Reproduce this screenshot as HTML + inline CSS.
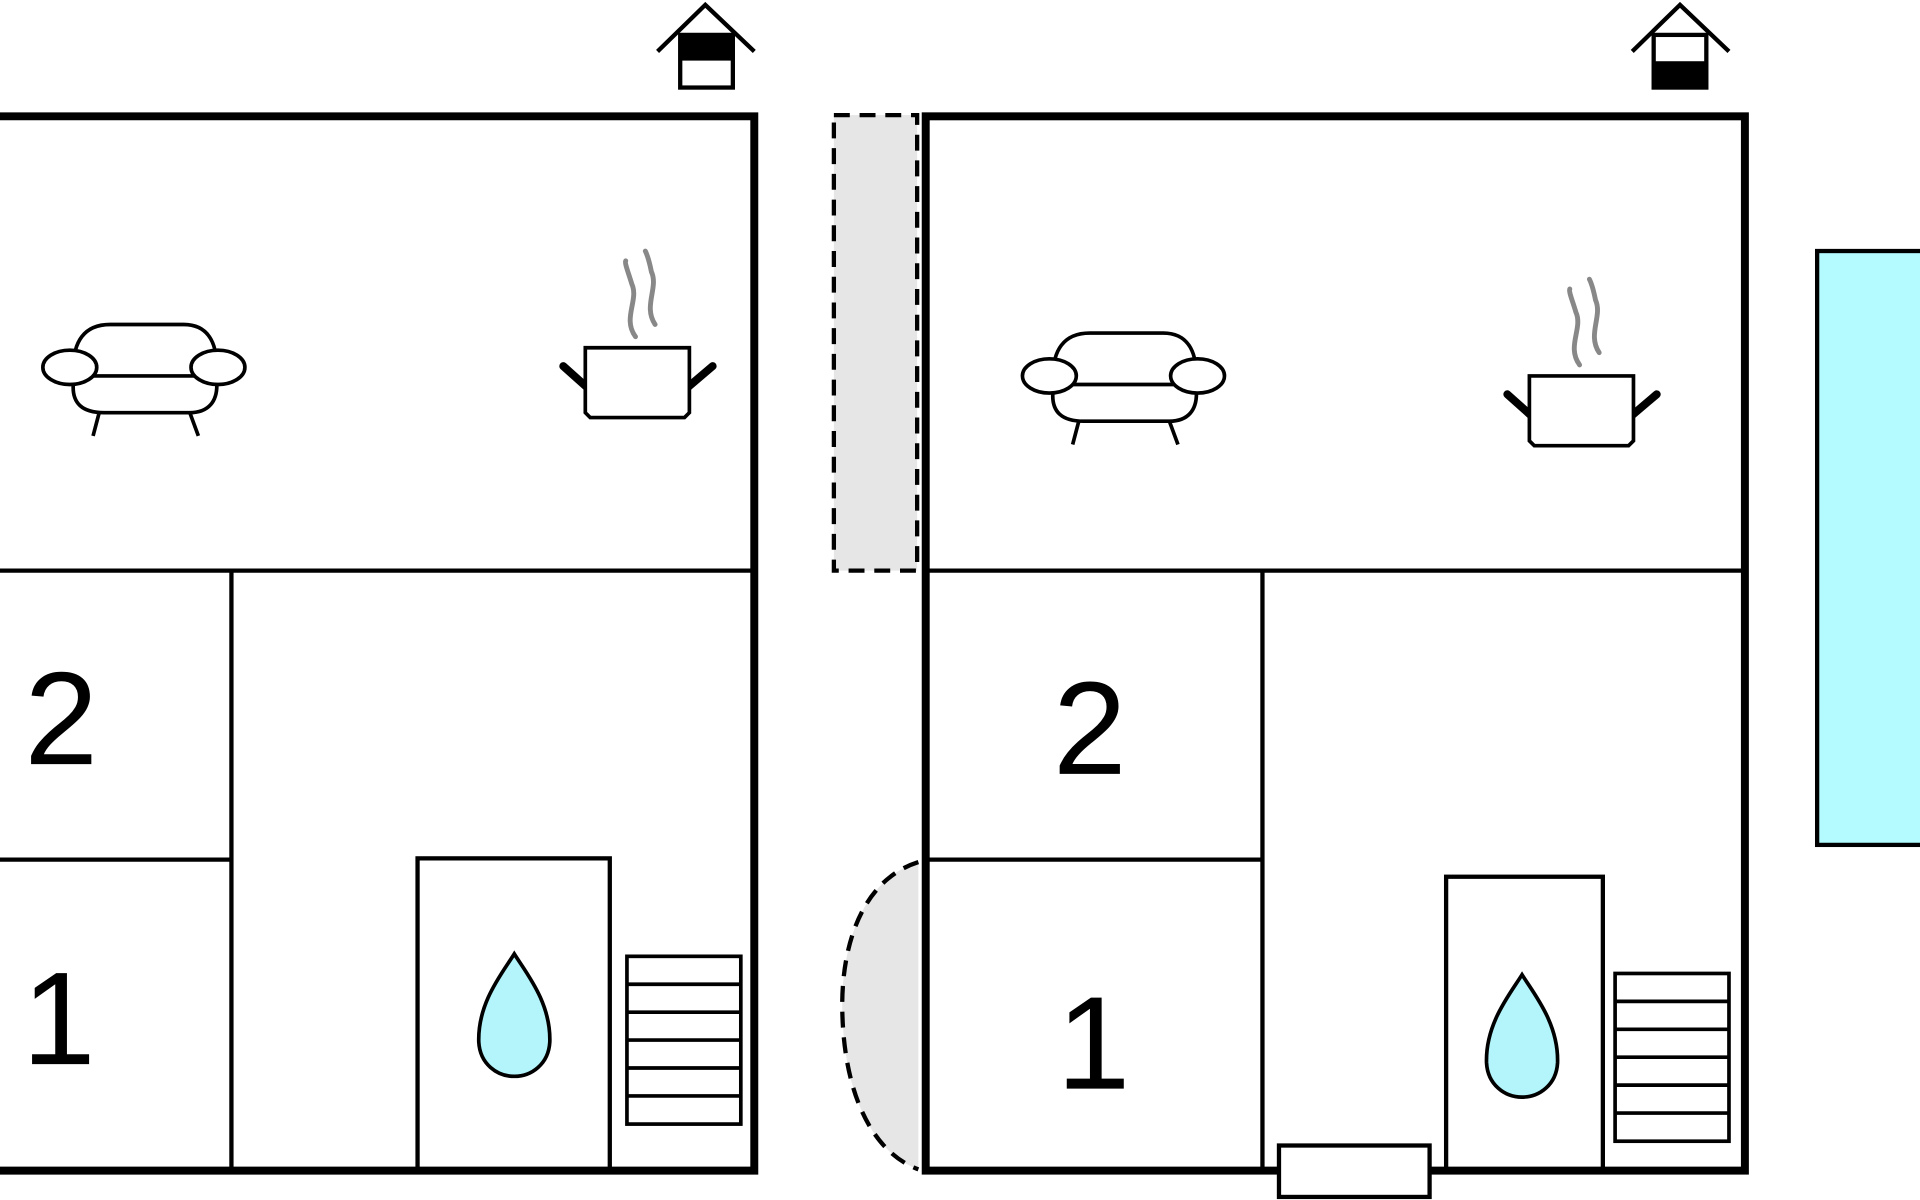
<!DOCTYPE html>
<html><head><style>html,body{margin:0;padding:0;background:#fff;overflow:hidden}svg{display:block}</style></head>
<body>
<svg width="1920" height="1200" viewBox="0 0 1568 980" xmlns="http://www.w3.org/2000/svg">
<defs>
<g id="sofa" fill="none" stroke="#000" stroke-width="3">
<path d="M60,300 C60,280 68,265 90,265 L150,265 C170,265 177,280 177,300"/>
<line x1="72" y1="307" x2="162" y2="307"/>
<path d="M60,312 C58,330 68,337 85,337 L155,337 C170,337 178,328 177,312"/>
<ellipse cx="57" cy="300" rx="22" ry="14" fill="#fff"/>
<ellipse cx="178" cy="300" rx="22" ry="14" fill="#fff"/>
<line x1="81" y1="337" x2="76" y2="356"/>
<line x1="155" y1="337" x2="162" y2="356"/>
</g>
<g id="pot">
<path d="M519,275 C508,260 522,245 516,232 C513,222 510,215 511,213" fill="none" stroke="#888" stroke-width="4" stroke-linecap="round"/>
<path d="M535,265 C525,250 538,235 532,222 C530,212 528,207 527,205" fill="none" stroke="#888" stroke-width="4" stroke-linecap="round"/>
<line x1="479" y1="316" x2="460" y2="299" stroke="#000" stroke-width="6.5" stroke-linecap="round"/>
<line x1="562" y1="316" x2="582" y2="299" stroke="#000" stroke-width="6.5" stroke-linecap="round"/>
<path d="M478,284 L563,284 L563,337 L559,341 L482,341 L478,337 Z" fill="#fff" stroke="#000" stroke-width="3"/>
</g>
<g id="stairs" fill="#fff" stroke="#000" stroke-width="3">
<rect x="0" y="0" width="93" height="137"/>
<line x1="0" y1="22.8" x2="93" y2="22.8"/><line x1="0" y1="45.6" x2="93" y2="45.6"/>
<line x1="0" y1="68.4" x2="93" y2="68.4"/><line x1="0" y1="91.2" x2="93" y2="91.2"/>
<line x1="0" y1="114" x2="93" y2="114"/>
</g>
<path id="drop" d="M0,0 C10,16 30,40 29,72 C28,90 14,100 0,100 C-14,100 -28,90 -29,72 C-30,40 -10,16 0,0 Z" fill="#b3f5fb" stroke="#000" stroke-width="3"/>
</defs>

<!-- Left house -->
<polyline points="537,42 576,4 616,42" fill="none" stroke="#000" stroke-width="3.5"/>
<rect x="555.5" y="28.5" width="43" height="43" fill="#fff" stroke="#000" stroke-width="3.5"/>
<rect x="555.5" y="28.5" width="43" height="21" fill="#000"/>

<path d="M-5,95 L616,95 L616,956 L-5,956" fill="none" stroke="#000" stroke-width="6.5"/>
<line x1="0" y1="466" x2="614" y2="466" stroke="#000" stroke-width="3.5"/>
<line x1="189" y1="466" x2="189" y2="955" stroke="#000" stroke-width="3.5"/>
<line x1="0" y1="702" x2="189" y2="702" stroke="#000" stroke-width="3.5"/>
<rect x="341" y="701" width="157" height="254" fill="none" stroke="#000" stroke-width="3.5"/>
<use href="#stairs" x="512" y="781"/>
<use href="#drop" x="420" y="779"/>
<use href="#sofa"/>
<use href="#pot"/>
<text x="50" y="624" font-family="Liberation Sans, sans-serif" font-size="108" text-anchor="middle">2</text>
<text x="48" y="869" font-family="Liberation Sans, sans-serif" font-size="108" text-anchor="middle">1</text>

<!-- middle dashed -->
<rect x="681" y="94" width="68" height="372" fill="#e6e6e6" stroke="#000" stroke-width="3.5" stroke-dasharray="13,8"/>
<path d="M750,704 C700,720 686,780 688,830 C690,890 710,940 750,955 Z" fill="#e6e6e6"/>
<path d="M750,704 C700,720 686,780 688,830 C690,890 710,940 750,955" fill="none" stroke="#000" stroke-width="3.5" stroke-dasharray="13,8"/>

<!-- Right house -->
<polyline points="1333,42 1372,4 1412,42" fill="none" stroke="#000" stroke-width="3.5"/>
<rect x="1350.5" y="28.5" width="43" height="43" fill="#fff" stroke="#000" stroke-width="3.5"/>
<rect x="1350.5" y="50" width="43" height="21.5" fill="#000"/>

<rect x="756" y="95" width="669" height="861" fill="none" stroke="#000" stroke-width="6.5"/>
<line x1="756" y1="466" x2="1424" y2="466" stroke="#000" stroke-width="3.5"/>
<line x1="1031" y1="466" x2="1031" y2="955" stroke="#000" stroke-width="3.5"/>
<line x1="756" y1="702" x2="1031" y2="702" stroke="#000" stroke-width="3.5"/>
<rect x="1181" y="716" width="128" height="239" fill="none" stroke="#000" stroke-width="3.5"/>
<use href="#stairs" x="1319" y="795"/>
<use href="#drop" x="1243" y="796"/>
<use href="#sofa" x="800" y="7"/>
<use href="#pot" x="771" y="23"/>
<rect x="1044.5" y="935.5" width="123" height="42" fill="#fff" stroke="#000" stroke-width="3.5"/>
<text x="890" y="632" font-family="Liberation Sans, sans-serif" font-size="108" text-anchor="middle">2</text>
<text x="893" y="889" font-family="Liberation Sans, sans-serif" font-size="108" text-anchor="middle">1</text>

<!-- pool -->
<rect x="1484" y="205" width="100" height="485" fill="#b3fbff" stroke="#000" stroke-width="3.5"/>
</svg>
</body></html>
